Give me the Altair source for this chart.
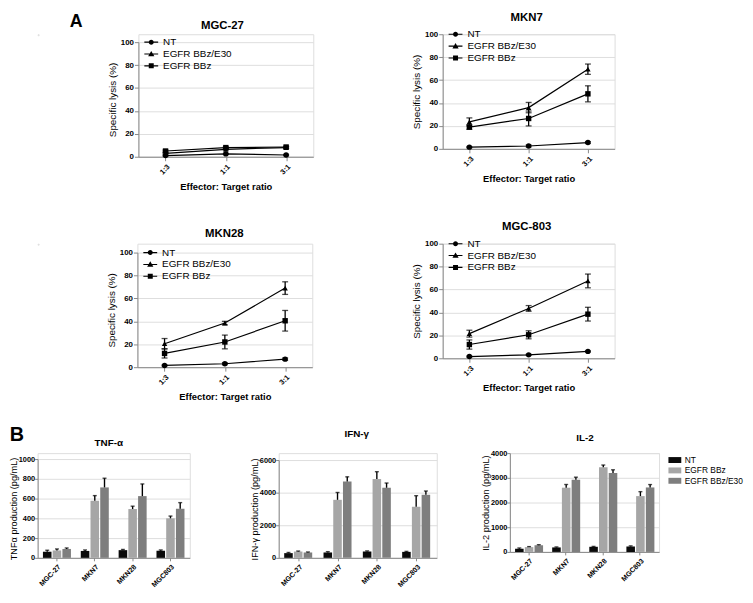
import altair as alt
import pandas as pd

FONT = "Liberation Sans"

# ---------------- Panel A: specific lysis ----------------
ratios = ["1:3", "1:1", "3:1"]
series_a = ["NT", "EGFR BBz/E30", "EGFR BBz"]

mgc27_nt = [1.0, 2.5, 1.5]
mgc27_nt_sd = [0.5, 0.5, 0.5]
mgc27_e30 = [3.0, 6.5, 8.0]
mgc27_e30_sd = [0.6, 0.6, 0.8]
mgc27_bbz = [5.0, 8.0, 8.5]
mgc27_bbz_sd = [0.8, 0.8, 0.8]

mkn7_nt = [1.5, 2.5, 5.5]
mkn7_nt_sd = [0.5, 0.8, 0.8]
mkn7_e30 = [23.5, 36.0, 69.5]
mkn7_e30_sd = [3.5, 4.5, 4.5]
mkn7_bbz = [19.0, 26.5, 48.0]
mkn7_bbz_sd = [2.0, 6.5, 7.0]

mkn28_nt = [1.5, 3.0, 7.0]
mkn28_nt_sd = [0.5, 0.8, 1.0]
mkn28_e30 = [20.5, 38.5, 69.0]
mkn28_e30_sd = [4.5, 1.5, 5.5]
mkn28_bbz = [12.0, 22.0, 40.5]
mkn28_bbz_sd = [4.0, 6.0, 9.0]

mgc803_nt = [1.5, 3.0, 6.0]
mgc803_nt_sd = [0.5, 0.5, 0.5]
mgc803_e30 = [21.5, 43.5, 67.5]
mgc803_e30_sd = [3.0, 2.5, 6.0]
mgc803_bbz = [12.0, 20.5, 38.5]
mgc803_bbz_sd = [4.0, 3.5, 6.0]

# ---------------- Panel B: cytokines ----------------
cells = ["MGC-27", "MKN7", "MKN28", "MGC803"]
series_b = ["NT", "EGFR BBz", "EGFR BBz/E30"]
bar_colors = ["#0a0a0a", "#a6a6a6", "#7e7e7e"]

tnf_nt = [62, 70, 78, 72]
tnf_nt_sd = [15, 10, 7, 8]
tnf_bbz = [75, 578, 494, 400]
tnf_bbz_sd = [15, 52, 29, 23]
tnf_e30 = [90, 713, 625, 497]
tnf_e30_sd = [10, 93, 123, 62]

ifn_nt = [290, 330, 387, 367]
ifn_nt_sd = [40, 50, 40, 30]
ifn_bbz = [387, 3560, 4835, 3133]
ifn_bbz_sd = [30, 450, 450, 680]
ifn_e30 = [330, 4680, 4300, 3868]
ifn_e30_sd = [30, 290, 290, 232]

il2_nt = [130, 182, 208, 220]
il2_nt_sd = [30, 20, 15, 25]
il2_bbz = [195, 2600, 3428, 2260]
il2_bbz_sd = [20, 130, 90, 180]
il2_e30 = [273, 2922, 3195, 2610]
il2_e30_sd = [20, 104, 130, 117]

# legend symbols (line with marker, and a flat rectangle)
LINE = "M-1,-0.08L1,-0.08L1,0.08L-1,0.08Z"
leg_paths = [
    LINE + "M0.36,0A0.36,0.36,0,1,1,-0.36,0A0.36,0.36,0,1,1,0.36,0Z",
    LINE + "M0,-0.45L0.45,0.33L-0.45,0.33Z",
    LINE + "M-0.36,-0.36L0.36,-0.36L0.36,0.36L-0.36,0.36Z",
]
RECT = "M-1.3,-0.6L1.3,-0.6L1.3,0.6L-1.3,0.6Z"


def lysis_df(groups):
    rows = []
    for s, (vals, sds) in zip(series_a, groups):
        for r, v, sd in zip(ratios, vals, sds):
            rows.append({"ratio": r, "series": s, "value": v, "lo": v - sd, "hi": v + sd})
    return pd.DataFrame(rows)


def cyto_df(groups):
    rows = []
    for s, (vals, sds) in zip(series_b, groups):
        for c, v, sd in zip(cells, vals, sds):
            rows.append({"cell": c, "series": s, "mean": v, "hi": v + sd})
    return pd.DataFrame(rows)


def anchor(box):
    # (practically) invisible layout box fixing the cell's extent around its origin
    L, T, R, B = box
    return alt.Chart(pd.DataFrame({"k": [0]})).mark_rect(fill="white", fillOpacity=0.001).encode(
        x=alt.value(L), x2=alt.value(R), y=alt.value(T), y2=alt.value(B))


def spacer(width):
    return anchor((0, 0, width, 1)).properties(width=1, height=1)


def label(text, x, y, size, weight="bold"):
    return alt.Chart(pd.DataFrame({"t": [text]})).mark_text(
        font=FONT, fontSize=size, fontWeight=weight, align="center", baseline="middle", color="black"
    ).encode(x=alt.value(x), y=alt.value(y), text="t:N")


def lysis_panel(df, title, w, h, top, txy, box, letter=None):
    base = alt.Chart(df)
    ax_x = alt.Axis(title="Effector: Target ratio", labelAngle=-45, labelFontSize=7.5,
                    labelFontWeight="bold", titleFontSize=9.5, titleFontWeight="bold",
                    tickSize=4, labelPadding=2, titlePadding=6)
    ax_y = alt.Axis(values=[0, 20, 40, 60, 80, 100], title="Specific lysis (%)",
                    labelFontSize=8, labelFontWeight="bold", titleFontSize=10,
                    titleFontWeight="normal", tickSize=4, labelPadding=1, titlePadding=3)
    ysc = alt.Scale(domain=[0, 100], nice=False, range=[h, top])
    x = alt.X("ratio:N", sort=ratios, scale=alt.Scale(type="point", padding=0.45), axis=ax_x)
    y = alt.Y("value:Q", scale=ysc, axis=ax_y)
    ylo = alt.Y("lo:Q", scale=ysc, axis=ax_y)
    yhi = alt.Y("hi:Q", scale=ysc, axis=ax_y)
    line = base.mark_line(color="black", strokeWidth=1.2).encode(x=x, y=y, detail="series:N")
    err = base.mark_rule(color="black", strokeWidth=1.3).encode(x=x, y=ylo, y2="hi:Q")
    cap_hi = base.mark_tick(color="black", size=6, thickness=1.3).encode(x=x, y=yhi)
    cap_lo = base.mark_tick(color="black", size=6, thickness=1.3).encode(x=x, y=ylo)
    pts = base.mark_point(filled=True, color="black", size=30, opacity=1).encode(
        x=x, y=y,
        shape=alt.Shape("series:N", scale=alt.Scale(domain=series_a, range=["circle", "triangle-up", "square"]),
                        legend=None))
    leg = base.mark_point(filled=True, color="black", opacity=0).encode(
        x=x, y=y,
        shape=alt.Shape("series:N", scale=alt.Scale(domain=series_a, range=leg_paths),
                        legend=alt.Legend(title=None, orient="none", legendX=6, legendY=top - 7,
                                          symbolSize=196, symbolFillColor="black", symbolStrokeWidth=0,
                                          symbolOpacity=1, labelFont=FONT, labelFontSize=10,
                                          labelColor="black", labelOffset=5, rowPadding=-2, padding=0)))
    layers = [anchor(box), line, err, cap_hi, cap_lo, pts, leg, label(title, txy[0], txy[1], 11.5)]
    if letter:
        layers.append(label(letter[0], letter[1], letter[2], 18))
    return alt.layer(*layers).resolve_scale(shape="independent").properties(width=w, height=h)


def cyto_panel(df, title, ytitle, ymax, yvals, w, h, top, txy, box, legend=None, letter=None):
    base = alt.Chart(df)
    ax_x = alt.Axis(title=None, labelAngle=-45, labelFontSize=7.2, labelFontWeight="bold",
                    tickSize=3, labelPadding=2)
    ax_y = alt.Axis(values=yvals, format="d", title=ytitle, labelFontSize=7.5, labelFontWeight="bold",
                    titleFontSize=9.3, titleFontWeight="normal", tickSize=3, labelPadding=0,
                    titlePadding=0)
    ysc = alt.Scale(domain=[0, ymax], nice=False, range=[h, top])
    x = alt.X("cell:N", sort=cells, scale=alt.Scale(paddingInner=0.26, paddingOuter=0.14), axis=ax_x)
    xo = alt.XOffset("series:N", sort=series_b, scale=alt.Scale(paddingInner=0.12))
    y = alt.Y("mean:Q", scale=ysc, axis=ax_y)
    yhi = alt.Y("hi:Q", scale=ysc, axis=ax_y)
    bars = base.mark_bar().encode(
        x=x, xOffset=xo, y=y,
        color=alt.Color("series:N", scale=alt.Scale(domain=series_b, range=bar_colors), legend=legend))
    err = base.mark_rule(color="black", strokeWidth=1.4).encode(x=x, xOffset=xo, y=y, y2="hi:Q")
    cap = base.mark_tick(color="black", size=4, thickness=1.4).encode(x=x, xOffset=xo, y=yhi)
    layers = [anchor(box), bars, err, cap, label(title, txy[0], txy[1], 10)]
    if letter:
        layers.append(label(letter[0], letter[1], letter[2], 20))
    return alt.layer(*layers).properties(width=w, height=h)


# --- row A1 (origin = MKN7 plot top) ---
p_mgc27 = lysis_panel(
    lysis_df([(mgc27_nt, mgc27_nt_sd), (mgc27_e30, mgc27_e30_sd), (mgc27_bbz, mgc27_bbz_sd)]),
    "MGC-27", 177, 124, 8, (85, -8), (-71, -20, 261, 158), letter=("A", -63, -12))
p_mkn7 = lysis_panel(
    lysis_df([(mkn7_nt, mkn7_nt_sd), (mkn7_e30, mkn7_e30_sd), (mkn7_bbz, mkn7_bbz_sd)]),
    "MKN7", 174, 116, 0, (85, -16), (-45, -20, 290, 158))
# --- row A2 (origin = MGC-803 plot top) ---
p_mkn28 = lysis_panel(
    lysis_df([(mkn28_nt, mkn28_nt_sd), (mkn28_e30, mkn28_e30_sd), (mkn28_bbz, mkn28_bbz_sd)]),
    "MKN28", 177, 125, 9, (88, -10), (-40, -52, 262, 158))
p_mgc803 = lysis_panel(
    lysis_df([(mgc803_nt, mgc803_nt_sd), (mgc803_e30, mgc803_e30_sd), (mgc803_bbz, mgc803_bbz_sd)]),
    "MGC-803", 174, 116, 0, (85, -17), (-45, -52, 290, 158))

# --- row B (origin = IL-2 plot top) ---
legend_b = alt.Legend(title=None, orient="none", legendX=162, legendY=2, symbolType=RECT,
                      symbolSize=100, symbolStrokeWidth=0, symbolOpacity=1, labelFont=FONT,
                      labelFontSize=8.5, labelColor="black", labelOffset=5, rowPadding=0.5, padding=0)

p_tnf = cyto_panel(cyto_df([(tnf_nt, tnf_nt_sd), (tnf_bbz, tnf_bbz_sd), (tnf_e30, tnf_e30_sd)]),
                   "TNF-α", "TNFα production (pg/mL)", 1000, [0, 200, 400, 600, 800, 1000],
                   154, 106, 6, (72, -10), (-29, -51, 213, 136), letter=("B", -21, -18))
p_ifn = cyto_panel(cyto_df([(ifn_nt, ifn_nt_sd), (ifn_bbz, ifn_bbz_sd), (ifn_e30, ifn_e30_sd)]),
                   "IFN-γ", "IFN-γ production (pg/mL)", 6000, [0, 2000, 4000, 6000],
                   160, 106, 7, (79, -19), (-26, -51, 192, 136))
p_il2 = cyto_panel(cyto_df([(il2_nt, il2_nt_sd), (il2_bbz, il2_bbz_sd), (il2_e30, il2_e30_sd)]),
                   "IL-2", "IL-2 production (pg/mL)", 4000, [0, 1000, 2000, 3000, 4000],
                   151, 100, 0, (76, -15), (-40, -51, 237, 136), legend=legend_b)

indep = dict(color="independent", shape="independent")
row1 = alt.hconcat(spacer(29), p_mgc27, p_mkn7, spacing=0).resolve_scale(**indep)
row2 = alt.hconcat(spacer(59), p_mkn28, p_mgc803, spacing=0).resolve_scale(**indep)
row3 = alt.hconcat(p_tnf, p_ifn, p_il2, spacing=0).resolve_scale(**indep)

chart = (
    alt.vconcat(row1, row2, row3, spacing=0)
    .resolve_scale(**indep)
    .properties(padding=0)
    .configure_view(stroke=None)
    .configure_axis(domainColor="black", tickColor="black", labelColor="black", titleColor="black",
                    grid=False, labelFont=FONT, titleFont=FONT, domainWidth=1.2, tickWidth=1.2)
    .configure(font=FONT)
)

chart.save("out.html", embed_options={"renderer": "svg", "actions": False})
